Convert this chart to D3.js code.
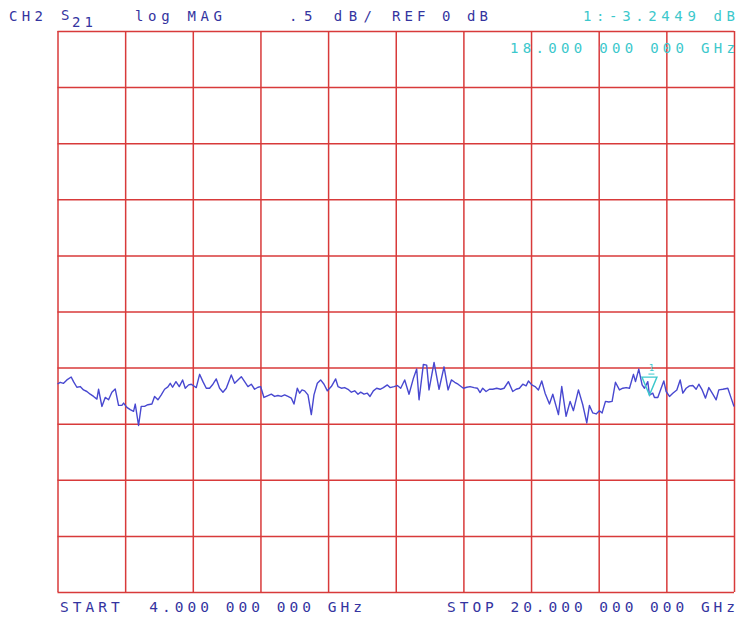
<!DOCTYPE html>
<html>
<head>
<meta charset="utf-8">
<script src="https://cdn.jsdelivr.net/npm/d3@7"></script>
<style>
  html, body { margin: 0; padding: 0; background: #ffffff; }
  svg { display: block; }
  text { font-family: "DejaVu Sans Mono", "Liberation Mono", monospace; }
</style>
</head>
<body>
<svg id="chart" width="738" height="617"></svg>
<script>
// ---- data ----
const freqGHz = [
  4.00,4.064,4.143,4.222,4.324,4.379,4.458,4.537,4.616,4.695,4.774,4.853,4.932,4.971,5.050,5.129,5.208,5.286,5.365,5.444,
  5.523,5.563,5.641,5.720,5.799,5.839,5.917,5.980,6.059,6.138,6.233,6.296,6.375,6.454,6.533,6.611,6.667,6.722,6.801,6.880,
  6.959,7.022,7.101,
  7.164,7.282,7.361,7.440,7.519,7.597,7.676,7.755,7.834,7.913,7.992,8.110,8.189,8.268,8.347,8.426,8.504,8.583,8.662,8.741,
  8.804,8.883,8.978,9.057,9.135,9.214,9.293,9.372,9.451,9.530,9.593,9.672,9.727,9.782,9.845,9.924,10.003,10.066,10.145,10.224,
  10.303,
  10.382,10.476,10.579,10.634,10.713,10.792,10.871,10.950,11.029,11.107,11.170,11.249,11.328,11.391,11.470,11.549,11.628,11.707,
  11.801,11.865,11.959,12.038,12.117,12.212,12.314,12.417,12.495,12.551,12.653,12.732,12.787,12.906,13.024,13.142,13.237,13.316,
  13.395,13.474,
  13.600,13.679,13.757,13.852,13.931,13.994,14.057,14.136,14.215,14.294,14.388,14.483,14.562,14.664,14.767,14.846,14.925,15.004,
  15.083,15.138,15.217,15.295,15.374,15.453,15.532,15.635,15.714,15.848,15.926,16.029,16.124,16.202,16.321,16.423,16.518,16.581,
  16.660,16.739,
  16.818,16.881,16.960,17.039,17.117,17.196,17.291,17.370,17.449,17.528,17.622,17.670,17.748,17.827,17.883,17.961,18.000,18.080,
  18.119,18.198,18.277,18.340,18.395,18.474,18.553,18.648,18.727,18.790,18.868,18.947,19.026,19.105,19.168,19.247,19.326,19.405,
  19.499,19.578,19.641,19.736,19.854,19.933,20.000
];
const s21dB = [
  -3.146,-3.131,-3.140,-3.110,-3.084,-3.125,-3.175,-3.169,-3.199,-3.213,-3.237,-3.257,-3.281,-3.193,-3.346,-3.266,-3.287,-3.219,-3.190,-3.337,
  -3.337,-3.316,-3.354,-3.375,-3.390,-3.325,-3.516,-3.346,-3.346,-3.331,-3.325,-3.257,-3.287,-3.243,-3.193,-3.172,-3.140,-3.175,-3.125,-3.169,
  -3.110,-3.184,-3.154,
  -3.148,-3.178,-3.060,-3.125,-3.184,-3.184,-3.148,-3.101,-3.184,-3.219,-3.184,-3.066,-3.140,-3.110,-3.081,-3.125,-3.169,-3.148,-3.193,-3.175,
  -3.169,-3.266,-3.249,-3.237,-3.257,-3.249,-3.257,-3.243,-3.257,-3.272,-3.325,-3.184,-3.228,-3.199,-3.207,-3.243,-3.419,-3.243,-3.140,-3.110,
  -3.148,
  -3.207,-3.169,-3.101,-3.169,-3.184,-3.178,-3.193,-3.219,-3.207,-3.237,-3.219,-3.237,-3.228,-3.257,-3.207,-3.184,-3.193,-3.178,
  -3.154,-3.178,-3.169,-3.160,-3.184,-3.110,-3.237,-3.096,-3.013,-3.287,-2.972,-2.978,-3.199,-2.954,-3.193,-2.993,-3.199,-3.110,
  -3.131,-3.148,
  -3.184,-3.175,-3.169,-3.178,-3.184,-3.222,-3.184,-3.213,-3.193,-3.193,-3.184,-3.193,-3.184,-3.125,-3.213,-3.193,-3.184,-3.148,
  -3.163,-3.119,-3.154,-3.169,-3.199,-3.119,-3.228,-3.325,-3.237,-3.419,-3.169,-3.434,-3.301,-3.384,-3.199,-3.331,-3.493,-3.337,
  -3.404,-3.413,
  -3.384,-3.404,-3.301,-3.307,-3.301,-3.131,-3.199,-3.184,-3.178,-3.184,-3.060,-3.125,-3.013,-3.154,-3.184,-3.125,-3.245,-3.228,
  -3.266,-3.266,-3.184,-3.119,-3.213,-3.257,-3.228,-3.199,-3.110,-3.228,-3.184,-3.163,-3.160,-3.193,-3.148,-3.199,-3.272,-3.178,
  -3.237,-3.287,-3.199,-3.193,-3.184,-3.272,-3.346
];
const xGridTicks = [4.0,5.6,7.2,8.8,10.4,12.0,13.6,15.2,16.8,18.4,20.0];
const yGridTicks = [0,-0.5,-1.0,-1.5,-2.0,-2.5,-3.0,-3.5,-4.0,-4.5,-5.0];
const marker = { freq: 18.0, value: -3.2449, label: "1" };
const headerTexts = ["CH2", "log MAG", ".5 dB/", "REF 0 dB"];
const markerReadout = ["1:-3.2449 dB", "18.000 000 000 GHz"];
const footerTexts = ["START  4.000 000 000 GHz", "STOP 20.000 000 000 GHz"];

// ---- drawing ----
(function () {
const svg = d3.select("#chart");
const pLeft = 57.5, pRight = 734, pTop = 31, pBottom = 592;
const x = d3.scaleLinear().domain([4, 20]).range([pLeft, pRight]);
const y = d3.scaleLinear().domain([-5, 0]).range([pBottom, pTop]);

const gridColor = "#d83a3a";
const textBlue = "#3434a0";
const cyan = "#3cc8cc";
const traceColor = "#4848d0";

// grid via axes
const gx = svg.append("g").attr("transform", `translate(0,${pBottom})`)
  .call(d3.axisBottom(x).tickValues(xGridTicks).tickSize(-(pBottom - pTop)).tickFormat(""));
const gy = svg.append("g").attr("transform", `translate(${pLeft},0)`)
  .call(d3.axisLeft(y).tickValues(yGridTicks).tickSize(-(pRight - pLeft)).tickFormat(""));
[gx, gy].forEach(g => {
  g.select(".domain").remove();
  g.selectAll(".tick line").attr("stroke", gridColor).attr("stroke-width", 1.5);
});

// trace
const pts = freqGHz.map((f, i) => [f, s21dB[i]]);
svg.append("path")
  .datum(pts)
  .attr("fill", "none")
  .attr("stroke", traceColor)
  .attr("stroke-width", 1.4)
  .attr("stroke-linejoin", "round")
  .attr("d", d3.line().x(d => x(d[0])).y(d => y(d[1])));

// marker
const mx = x(marker.freq), my = y(marker.value);
svg.append("path")
  .attr("d", `M${mx},${my} L${mx - 7.5},${my - 18} L${mx + 7.5},${my - 18} Z`)
  .attr("fill", "none").attr("stroke", cyan).attr("stroke-width", 1.4);
svg.append("text").attr("x", mx + 2).attr("y", my - 24)
  .attr("font-size", 9).attr("fill", cyan).attr("text-anchor", "middle").text(marker.label);
svg.append("line").attr("x1", mx - 1).attr("x2", mx + 5).attr("y1", my - 21).attr("y2", my - 21)
  .attr("stroke", cyan).attr("stroke-width", 1);

// text helper
function label(str, x0, yb, len, color, size) {
  return svg.append("text").attr("x", x0).attr("y", yb)
    .attr("font-size", size || 14).attr("fill", color)
    .attr("textLength", len).attr("lengthAdjust", "spacing")
    .attr("xml:space", "preserve").style("white-space", "pre")
    .text(str);
}

label(headerTexts[0], 9, 21, 34, textBlue);
svg.append("text").attr("x", 61).attr("y", 20).attr("font-size", 14).attr("fill", textBlue).text("S");
svg.append("text").attr("x", 72).attr("y", 27).attr("font-size", 14).attr("fill", textBlue)
  .attr("textLength", 21).attr("lengthAdjust", "spacing").text("21");
label(headerTexts[1], 135, 21, 87, textBlue);
label(headerTexts[2], 289, 21, 83, textBlue);
label(headerTexts[3], 392, 21, 96, textBlue);
label(markerReadout[0], 583, 21, 152, cyan);
label(markerReadout[1], 510, 53, 225, cyan);
label(footerTexts[0], 60, 612, 302, textBlue, 14.5);
label(footerTexts[1], 447, 612, 288, textBlue, 14.5);
})();
</script>
</body>
</html>
